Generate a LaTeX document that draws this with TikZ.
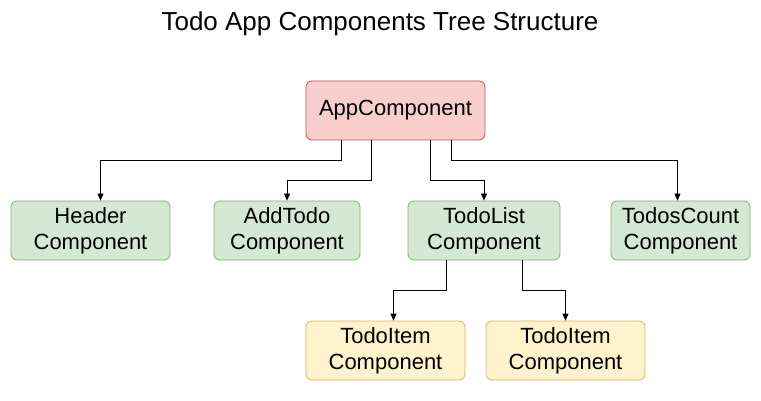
\documentclass[tikz,border=0pt]{standalone}
\usepackage{fontspec}
\setmainfont{Liberation Sans}
\usetikzlibrary{
	arrows.meta,
	calc,
	positioning,
	shapes.geometric
}
\definecolor{rojoFondo}{HTML}{F8CECC}
\definecolor{rojoBorde}{HTML}{B85450}
\definecolor{verdeFondo}{HTML}{D5E8D4}
\definecolor{verdeBorde}{HTML}{82B366}
\definecolor{amarFondo}{HTML}{FFF2CC}
\definecolor{amarBorde}{HTML}{D6B656}
\tikzset{
	comp/.style={rectangle, rounded corners=6pt, line width=0.8pt, align=center,
		minimum height=59pt, inner sep=0pt, font=\fontsize{22}{26}\selectfont},
	raiz/.style={comp, fill=rojoFondo, draw=rojoBorde},
	hijo/.style={comp, fill=verdeFondo, draw=verdeBorde},
	nieto/.style={comp, fill=amarFondo, draw=amarBorde},
	enlace/.style={-{Triangle[length=7pt,width=6pt]}, line width=0.8pt}
}
\begin{document}
\begin{tikzpicture}[x=1pt, y=-1pt]
\useasboundingbox (0,0) rectangle (761,401);
\node (titulo) at (380,24) {\fontsize{26}{30}\selectfont Todo App Components Tree Structure};

\node[raiz, minimum width=179pt] (app) at (395.5,110.5) {AppComponent};
\node[hijo, minimum width=159pt] (header) at (90.5,230.5) {Header\\Component};
\node[hijo, minimum width=146pt] (addtodo) at (287,230.5) {AddTodo\\Component};
\node[hijo, minimum width=152pt] (todolist) at (484,230.5) {TodoList\\Component};
\node[hijo, minimum width=139pt] (count) at (680.5,230.5) {TodosCount\\Component};
\node[nieto, minimum width=159pt] (item1) at (385.5,350.5) {TodoItem\\Component};
\node[nieto, minimum width=159pt] (item2) at (565.5,350.5) {TodoItem\\Component};

% app -> hijos
\draw[enlace] ([xshift=-54pt]app.south) -- ++(0,20) -| ([xshift=10pt]header.north);
\draw[enlace] ([xshift=-24pt]app.south) -- ++(0,40) -| (addtodo.north);
\draw[enlace] ([xshift=35pt]app.south) -- ++(0,40) -| (todolist.north);
\draw[enlace] ([xshift=56pt]app.south) -- ++(0,20) -| ([xshift=-3pt]count.north);
% lista -> items
\draw[enlace] ([xshift=-38pt]todolist.south) -- ++(0,30) -| ([xshift=8pt]item1.north);
\draw[enlace] ([xshift=38pt]todolist.south) -- ++(0,30) -| (item2.north);
\end{tikzpicture}
\end{document}
